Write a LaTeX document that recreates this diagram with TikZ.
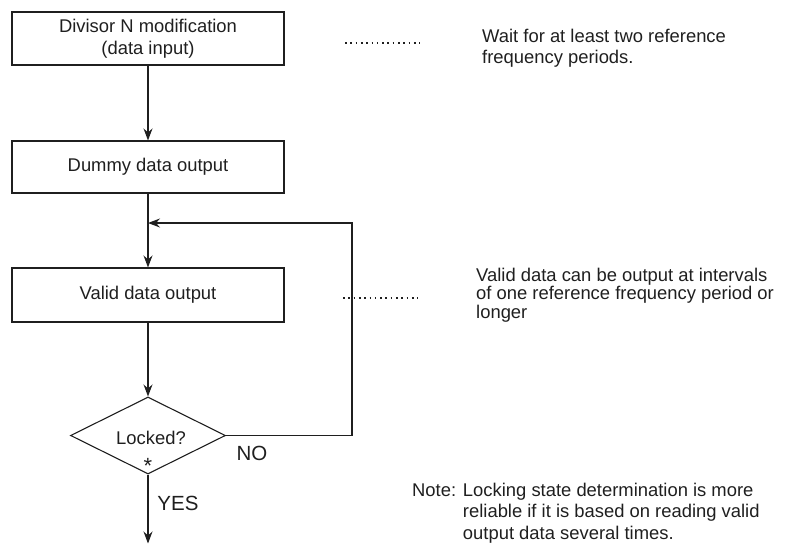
\documentclass[tikz,border=0pt]{standalone}
\usepackage{fontspec}
\setmainfont{Liberation Sans}
\usetikzlibrary{arrows.meta,shapes.geometric}
\begin{document}
\begin{tikzpicture}[x=1pt,y=-1pt,
  every node/.style={text=black!88, font=\fontsize{18.4}{22}\selectfont},
  box/.style={draw=black!88, line width=1.1pt, minimum width=272pt, minimum height=53pt, inner sep=0pt, align=center},
  dec/.style={draw=black!88, line width=1.1pt, shape=diamond, minimum width=155pt, minimum height=77pt, inner sep=0pt},
  flow/.style={draw=black!88, line width=1.1pt, -{Stealth[length=12pt,width=9pt,inset=4pt]}},
  leader/.style={draw=black!88, line width=1.6pt, dash pattern=on 1.6pt off 3.7pt},
  side/.style={anchor=base west, inner sep=0pt},
  yn/.style={font=\fontsize{20.5}{24}\selectfont, inner sep=0pt}
]
\useasboundingbox (0,0) rectangle (793,544);

% boxes
\node[box] (b1) at (148,38.5) {Divisor N modification\\(data input)};
\node[box, minimum height=52pt] (b2) at (148,167) {Dummy data output};
\node[box, minimum height=54pt] (b3) at (148,295) {Valid data output};
\node[dec] (d) at (148,435.5) {};
\node[inner sep=0pt] (lk) at (151,438) {Locked?};
\node[inner sep=0pt, font=\fontsize{22}{24}\selectfont] (st) at (148,466) {*};
\node[yn] (no) at (252,453) {NO};
\node[yn] (yes) at (178,503) {YES};

% connectors
\coordinate (j) at (148,223);
\coordinate (c) at (352,223);
\coordinate (out) at (148,543.5);
\draw[flow] (b1.south) -- (b2.north);
\draw[flow] (b2.south) -- (b3.north);
\draw[flow] (b3.south) -- (d.north);
\draw[flow] (d.south) -- (out);
\draw[flow] (d.east) -| (c) -- (j);

% leaders
\draw[leader] (345,43) -- (420,43);
\draw[leader] (343,298) -- (418,298);

% side texts
\node[side] (t1) at (482,42) {\vtop{\baselineskip=21pt\hbox{Wait for at least two reference}\hbox{frequency periods.}}};
\node[side] (t2) at (476,281) {\vtop{\baselineskip=18.7pt\hbox{Valid data can be output at intervals}\hbox{of one reference frequency period or}\hbox{longer}}};
\node[side] (t3) at (412,496) {\vtop{\baselineskip=21.5pt\hbox{Note: Locking state determination is more}\hbox{\hphantom{Note: }reliable if it is based on reading valid}\hbox{\hphantom{Note: }output data several times.}}};
\end{tikzpicture}
\end{document}
